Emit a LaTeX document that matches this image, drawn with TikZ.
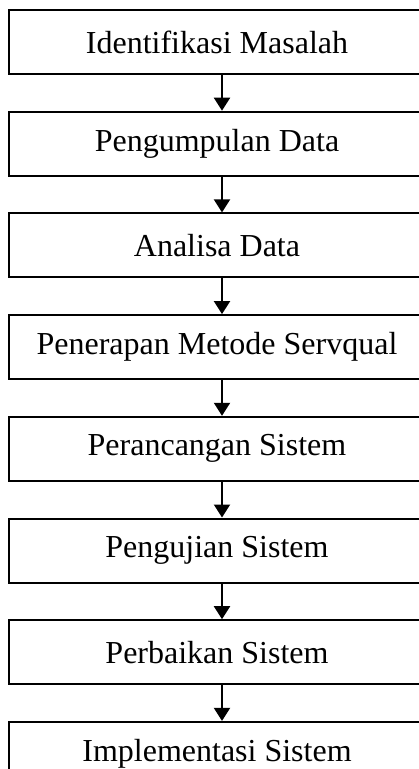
\documentclass[tikz,border=0pt]{standalone}
\usepackage{fontspec}
\setmainfont{Liberation Serif}
\usetikzlibrary{positioning, arrows.meta}

\tikzset{
  stage/.style = {draw, line width = 2pt, minimum width = 416pt, minimum height = 64pt,
                  inner sep = 0pt, font = \fontsize{32}{38}\selectfont},
  flow/.style = {line width = 2pt, -{Triangle[width = 16pt, length = 13pt]}}
}

\begin{document}
\begin{tikzpicture}[x = 1pt, y = 1pt, node distance = 35.7pt]
\clip (0,0) rectangle (419,-769);
\useasboundingbox (0,0) rectangle (419,-769);

\node[stage] (identifikasi) at (217,-42) {Identifikasi Masalah};
\node[stage, below = of identifikasi] (pengumpulan) {Pengumpulan Data};
\node[stage, below = of pengumpulan] (analisa) {Analisa Data};
\node[stage, below = of analisa] (servqual) {Penerapan Metode Servqual};
\node[stage, below = of servqual] (perancangan) {Perancangan Sistem};
\node[stage, below = of perancangan] (pengujian) {Pengujian Sistem};
\node[stage, below = of pengujian] (perbaikan) {Perbaikan Sistem};
\node[stage, below = of perbaikan] (implementasi) {Implementasi Sistem};

\draw[flow] ([xshift = 5pt]identifikasi.south) -- ([xshift = 5pt]pengumpulan.north);
\draw[flow] ([xshift = 5pt]pengumpulan.south) -- ([xshift = 5pt]analisa.north);
\draw[flow] ([xshift = 5pt]analisa.south) -- ([xshift = 5pt]servqual.north);
\draw[flow] ([xshift = 5pt]servqual.south) -- ([xshift = 5pt]perancangan.north);
\draw[flow] ([xshift = 5pt]perancangan.south) -- ([xshift = 5pt]pengujian.north);
\draw[flow] ([xshift = 5pt]pengujian.south) -- ([xshift = 5pt]perbaikan.north);
\draw[flow] ([xshift = 5pt]perbaikan.south) -- ([xshift = 5pt]implementasi.north);

\end{tikzpicture}
\end{document}
